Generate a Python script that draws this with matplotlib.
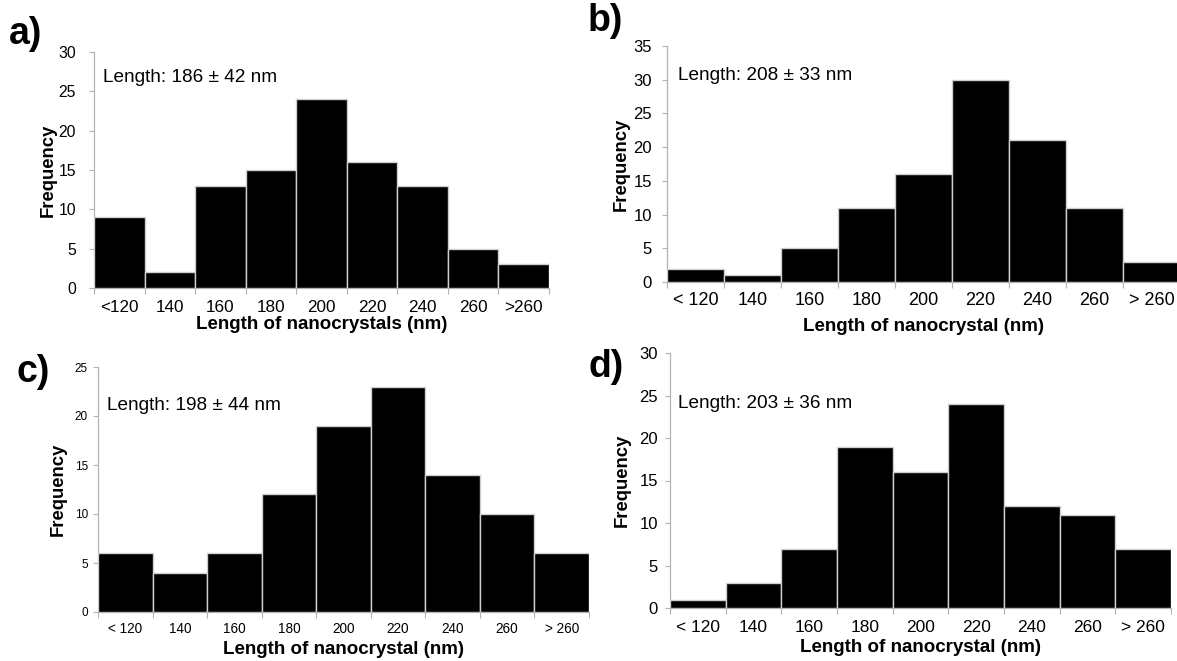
import numpy as np
import matplotlib
matplotlib.use("Agg")
import matplotlib.pyplot as plt

plt.rcParams['font.family'] = ['Liberation Sans', 'DejaVu Sans']

# ---------------- data ----------------
cats_a = ['<120', '140', '160', '180', '200', '220', '240', '260', '>260']
cats_bcd = ['< 120', '140', '160', '180', '200', '220', '240', '260', '> 260']

freq_a = [9, 2, 13, 15, 24, 16, 13, 5, 3]
freq_b = [2, 1, 5, 11, 16, 30, 21, 11, 3]
freq_c = [6, 4, 6, 12, 19, 23, 14, 10, 6]
freq_d = [1, 3, 7, 19, 16, 24, 12, 11, 7]

ymax_a, ymax_b, ymax_c, ymax_d = 30, 35, 25, 30

text_a = 'Length: 186 ± 42 nm'
text_b = 'Length: 208 ± 33 nm'
text_c = 'Length: 198 ± 44 nm'
text_d = 'Length: 203 ± 36 nm'

xlabel_a = 'Length of nanocrystals (nm)'
xlabel_bcd = 'Length of nanocrystal (nm)'
ylabel = 'Frequency'

# ---------------- layout ----------------
W, H = 1177, 661
fig = plt.figure(figsize=(W / 100, H / 100), dpi=100)
GRAY = '#b3b3b3'


def px(v):
    return v * 72 / 100.0


def panel(box, cats, vals, ymax, letter, letter_xy, annot, annot_xy, xlab, xlab_y,
          ylab_x, xt_size, yt_size, xt_pad, yt_pad):
    l, r, t, b = box
    ax = fig.add_axes([l / W, 1 - b / H, (r - l) / W, (b - t) / H])
    x = np.arange(len(vals))
    ax.bar(x, vals, width=1.0, color='black', edgecolor='#cfcfcf', linewidth=1.0, zorder=3)
    ax.set_xlim(-0.5, len(vals) - 0.5)
    ax.set_ylim(0, ymax)
    ax.set_yticks(np.arange(0, ymax + 1, 5))
    ax.set_xticks(np.arange(len(vals) + 1) - 0.5)
    ax.set_xticklabels([])
    ax.set_xticks(x, minor=True)
    ax.set_xticklabels(cats, minor=True)
    ax.tick_params(axis='x', which='major', length=px(6), width=0.8, color=GRAY, direction='out')
    ax.tick_params(axis='x', which='minor', length=0, pad=px(xt_pad), labelsize=xt_size)
    ax.tick_params(axis='y', length=px(5), width=0.8, color=GRAY, pad=px(yt_pad), labelsize=yt_size)
    for s in ('top', 'right'):
        ax.spines[s].set_visible(False)
    for s in ('left', 'bottom'):
        ax.spines[s].set_color(GRAY)
        ax.spines[s].set_linewidth(0.9)
    ax.patch.set_alpha(0)

    fig.text(letter_xy[0] / W, 1 - letter_xy[1] / H, letter, fontsize=27, fontweight='bold',
             ha='left', va='center')
    fig.text(annot_xy[0] / W, 1 - annot_xy[1] / H, annot, fontsize=13.7, ha='left', va='center')
    fig.text(((l + r) / 2) / W, 1 - xlab_y / H, xlab, fontsize=13.5, fontweight='bold',
             ha='center', va='center')
    fig.text(ylab_x / W, 1 - ((t + b) / 2) / H, ylabel, fontsize=13.3, fontweight='bold',
             rotation=90, ha='center', va='center')
    return ax


panel((94, 549, 52, 288), cats_a, freq_a, ymax_a, 'a)', (9, 34), text_a, (103, 77),
      xlabel_a, 325, 48, 12.3, 11.3, 12, 13)
panel((667, 1180, 46, 282), cats_bcd, freq_b, ymax_b, 'b)', (588, 21), text_b, (678, 76),
      xlabel_bcd, 327, 621, 13, 12, 10, 10)
panel((98, 589, 367, 612), cats_bcd, freq_c, ymax_c, 'c)', (16, 372), text_c, (107, 405),
      xlabel_bcd, 649, 58, 9.8, 8.5, 10, 5)
panel((670, 1171, 353, 608), cats_bcd, freq_d, ymax_d, 'd)', (588, 367), text_d, (678, 404),
      xlabel_bcd, 647, 622, 12.5, 12, 12, 7)

fig.savefig('out.png', dpi=100)
